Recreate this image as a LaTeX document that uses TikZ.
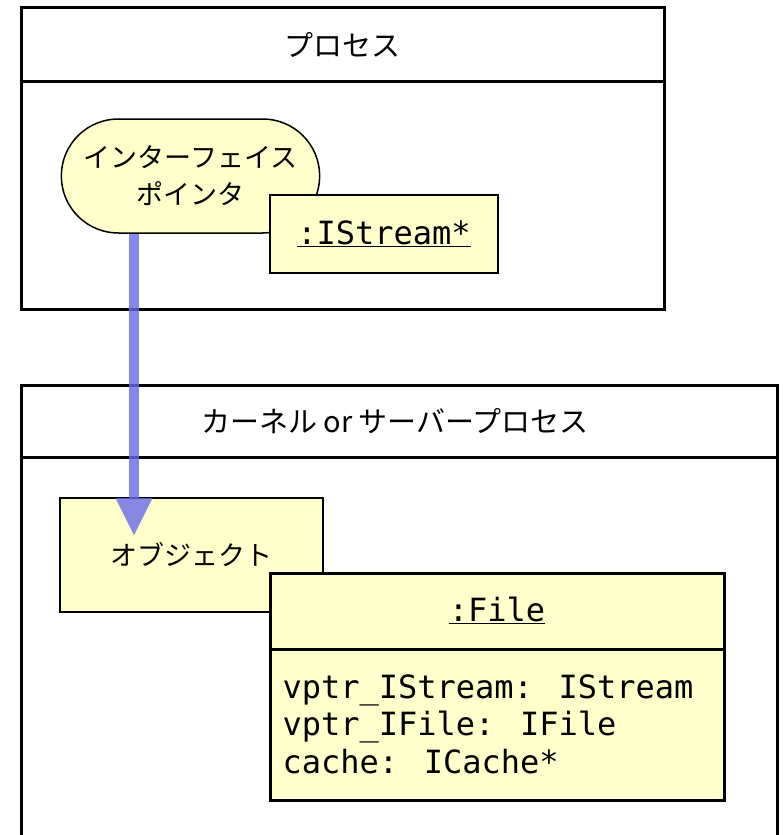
\documentclass[tikz,border=0pt]{standalone}
\usepackage{fontspec}
\setmainfont{Noto Sans CJK JP}
\newfontfamily\monofont{DejaVu Sans Mono}
\usetikzlibrary{shapes.misc,arrows.meta,positioning}

\definecolor{objyellow}{RGB}{255,255,204}
\definecolor{ptrblue}{RGB}{105,105,235}

\tikzset{
  frame/.style={draw, line width=3pt, inner sep=0pt},
  header/.style={font=\fontsize{29}{33}\selectfont},
  obj/.style={draw, fill=objyellow, line width=2.5pt, inner sep=0pt},
  jptext/.style={font=\fontsize{27}{37}\selectfont, align=center},
  monotext/.style={font=\monofont\fontsize{32}{37.5}\selectfont},
  ptrline/.style={draw=ptrblue, line width=10pt, opacity=0.8, -{Triangle[length=37pt,width=37pt,line width=0pt]}}
}

\begin{document}
\begin{tikzpicture}[x=1pt, y=-1pt]
        \useasboundingbox (0,0) rectangle (782,835);
        \clip (0,0) rectangle (782,835);

        % process
        \node[frame, minimum width=643pt, minimum height=302pt] (proc) at (342.5,158) {};
        \draw[line width=3pt] (proc.west |- 0,81) -- (proc.east |- 0,81);
        \node[header] (proctitle) at (342.5,45) {プロセス};

        \node[rounded rectangle, draw, fill=objyellow, line width=1.5pt, minimum width=265pt, minimum height=114pt, jptext] (ptr) at (190.5,176) {インターフェイス\\ポインタ};
        \node[obj, minimum width=228pt, minimum height=78pt, monotext] (istream) at (384,234) {\underline{:IStream*}};

        % kernel or server process
        \node[frame, minimum width=756pt, minimum height=465pt] (server) at (399,617.5) {};
        \draw[line width=3pt] (server.west |- 0,457) -- (server.east |- 0,457);
        \node[header] (servertitle) at (395,421) {カーネル or サーバープロセス};

        \node[obj, line width=1.8pt, minimum width=263pt, minimum height=114pt, jptext] (object) at (191.5,555) {オブジェクト};

        % :File
        \node[obj, line width=3pt, minimum width=454pt, minimum height=227pt] (file) at (497,686.5) {};
        \draw[line width=3pt] (file.west |- 0,649) -- (file.east |- 0,649);
        \node[monotext] (filetitle) at (497,610) {\underline{:File}};
        \node[monotext, align=left, anchor=west] (fileattr) at (279,724) {vptr\_IStream: IStream\\vptr\_IFile: IFile\\cache: ICache*};

        % pointer
        \coordinate (tip) at (134,535);
        \draw[ptrline] (ptr.south -| tip) -- (tip);
\end{tikzpicture}
\end{document}
